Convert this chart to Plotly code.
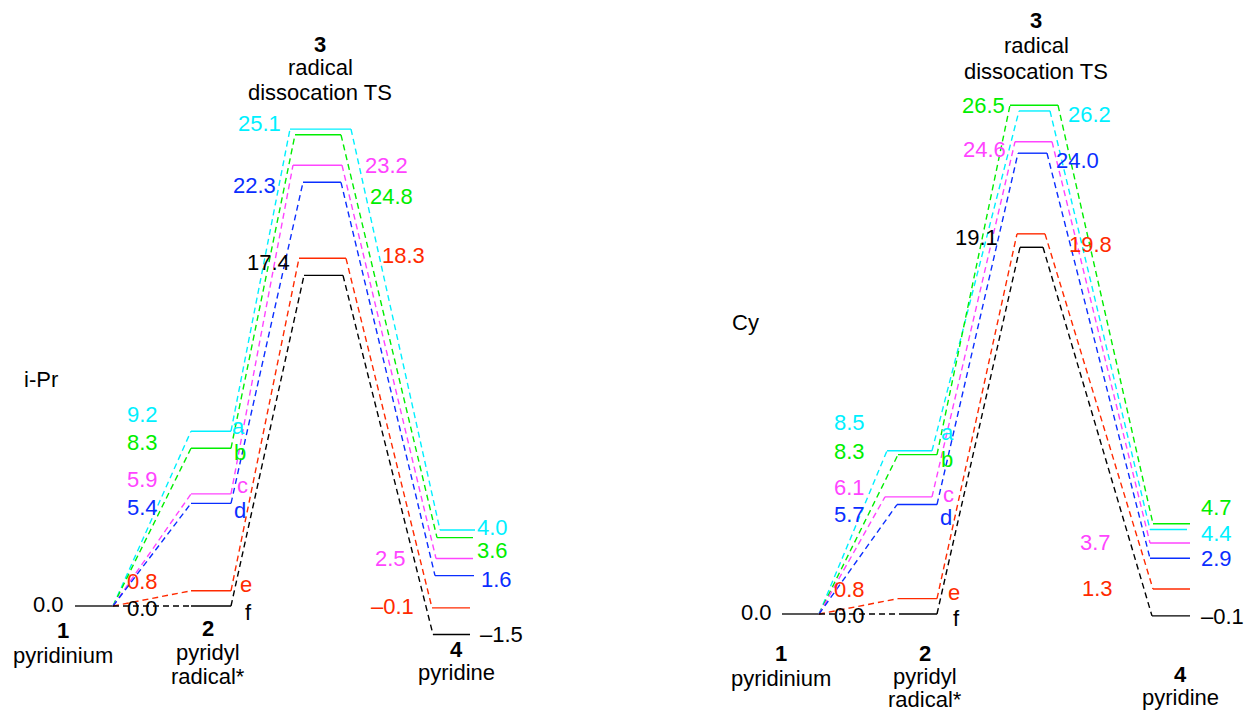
import plotly.graph_objects as go

# ---------------- data ----------------
series = ["a", "b", "c", "d", "e", "f"]
colors = ["#00F0FF", "#00EE00", "#FF44FF", "#0A2EFF", "#FF2A00", "#000000"]
stages = ["1", "2", "3", "4"]
stage_names = ["pyridinium", "pyridyl<br>radical*", "radical<br>dissocation TS", "pyridine"]
panels = ["i-Pr", "Cy"]

ipr_pyridinium = 0.0
ipr_radical = [9.2, 8.3, 5.9, 5.4, 0.8, 0.0]
ipr_ts = [25.1, 24.8, 23.2, 22.3, 18.3, 17.4]
ipr_pyridine = [4.0, 3.6, 2.5, 1.6, -0.1, -1.5]

cy_pyridinium = 0.0
cy_radical = [8.5, 8.3, 6.1, 5.7, 0.8, 0.0]
cy_ts = [26.2, 26.5, 24.6, 24.0, 19.8, 19.1]
cy_pyridine = [4.4, 4.7, 3.7, 2.9, 1.3, -0.1]

# ---------------- layout constants (pixel x positions, label offsets) ----------------
W, H = 1246, 711
FONT = "Liberation Sans, Arial, Helvetica, sans-serif"
FS = 22

panel_cfg = [
    dict(yaxis="y", base=606, scale=19.0,
         s1=(75, 113),
         s2=[(191, 231)] * 6,
         ts=[(290, 351), (295, 341), (293, 342), (303, 341), (299, 346), (304, 343)],
         p=[(440, 475), (437, 473), (436, 473), (435, 474), (432, 470), (433, 470)],
         s1lab=(48, 2),
         s2lab_x=[142] * 6, s2lab_dy=[17, 6, 14, -4, 9, -2],
         let_x=[238, 240, 242, 240, 246, 248], let_dy=[5, -4, 8, -7, 6, -6],
         tslab_x=[259, 391, 386, 254, 403, 268], tslab_dy=[6, -62, 0, -3, 3, 13],
         plab_x=[492, 492, 390, 496, 392, 501], plab_dy=[3, -13, 0, -4, 1, 0],
         title=(320, [44, 68, 92]), name=(41, 380),
         st1=(63, [630, 655]), st2=(208, [628, 652, 676]), st4=(456, [649, 672])),
    dict(yaxis="y2", base=614, scale=19.2,
         s1=(782, 819),
         s2=[(887, 932), (898, 937), (885, 932), (897, 937), (898, 937), (900, 937)],
         ts=[(1019, 1050), (1010, 1058), (1015, 1052), (1018, 1047), (1017, 1045), (1020, 1043)],
         p=[(1150, 1187), (1153, 1190), (1150, 1190), (1150, 1190), (1153, 1190), (1152, 1190)],
         s1lab=(756, 2),
         s2lab_x=[849] * 6, s2lab_dy=[28, 3, 9, -10, 9, -1],
         let_x=[947, 947, 948, 946, 954, 956], let_dy=[18, -5, 2, -13, 6, -4],
         tslab_x=[1089, 983, 984, 1077, 1090, 976], tslab_dy=[-4, 0, -8, -7, -11, 10],
         plab_x=[1216, 1216, 1095, 1216, 1097, 1222], plab_dy=[-4, 16, 0, 0, 1, -1],
         title=(1036, [20, 46, 71]), name=(745, 323),
         st1=(781, [653, 678]), st2=(925, [653, 676, 699]), st4=(1180, [674, 697])),
]

panel_data = [
    (ipr_pyridinium, ipr_radical, ipr_ts, ipr_pyridine),
    (cy_pyridinium, cy_radical, cy_ts, cy_pyridine),
]


def fmt(v):
    s = f"{abs(v):.1f}"
    return ("\u2013" + s) if v < 0 else s


fig = go.Figure()
annotations = []

for cfg, (v1, v2, v3, v4) in zip(panel_cfg, panel_data):
    ya = cfg["yaxis"]
    yref = ya
    # stage 1 level
    fig.add_trace(go.Scatter(x=list(cfg["s1"]), y=[v1, v1], mode="lines",
                             line=dict(color="#222222", width=1.4),
                             xaxis="x", yaxis=ya, hoverinfo="skip"))
    for i, s in enumerate(series):
        c = colors[i]
        a2, b2 = cfg["s2"][i]
        a3, b3 = cfg["ts"][i]
        a4, b4 = cfg["p"][i]
        # solid levels
        fig.add_trace(go.Scatter(
            x=[a2, b2, None, a3, b3, None, a4, b4],
            y=[v2[i], v2[i], None, v3[i], v3[i], None, v4[i], v4[i]],
            mode="lines", line=dict(color=c, width=1.4),
            xaxis="x", yaxis=ya, hoverinfo="skip"))
        # dashed connectors
        fig.add_trace(go.Scatter(
            x=[cfg["s1"][1], a2, None, b2, a3, None, b3, a4],
            y=[v1, v2[i], None, v2[i], v3[i], None, v3[i], v4[i]],
            mode="lines", line=dict(color=c, width=1.4, dash="6px,4px"),
            xaxis="x", yaxis=ya, hoverinfo="skip"))
        # labels
        annotations.append(dict(x=cfg["s2lab_x"][i], y=v2[i], xref="x", yref=yref,
                                yshift=cfg["s2lab_dy"][i], text=fmt(v2[i]),
                                showarrow=False, font=dict(color=c, size=FS, family=FONT)))
        annotations.append(dict(x=cfg["let_x"][i], y=v2[i], xref="x", yref=yref,
                                yshift=cfg["let_dy"][i], text=s,
                                showarrow=False, font=dict(color=c, size=FS, family=FONT)))
        annotations.append(dict(x=cfg["tslab_x"][i], y=v3[i], xref="x", yref=yref,
                                yshift=cfg["tslab_dy"][i], text=fmt(v3[i]),
                                showarrow=False, font=dict(color=c, size=FS, family=FONT)))
        annotations.append(dict(x=cfg["plab_x"][i], y=v4[i], xref="x", yref=yref,
                                yshift=cfg["plab_dy"][i], text=fmt(v4[i]),
                                showarrow=False, font=dict(color=c, size=FS, family=FONT)))
    # stage 1 label
    annotations.append(dict(x=cfg["s1lab"][0], y=v1, xref="x", yref=yref,
                            yshift=cfg["s1lab"][1], text=fmt(v1), showarrow=False,
                            font=dict(color="black", size=FS, family=FONT)))


def ptext(x, ypx, text, bold=False, color="black"):
    t = f"<b>{text}</b>" if bold else text
    annotations.append(dict(x=x, y=1 - ypx / H, xref="x", yref="paper", text=t,
                            showarrow=False, yanchor="middle",
                            font=dict(color=color, size=FS, family=FONT)))


for pi, cfg in enumerate(panel_cfg):
    tx, tys = cfg["title"]
    ts_lines = stage_names[2].split("<br>")
    ptext(tx, tys[0], stages[2], bold=True)
    ptext(tx, tys[1], ts_lines[0])
    ptext(tx, tys[2], ts_lines[1])
    nx, ny = cfg["name"]
    ptext(nx, ny, panels[pi])
    x1, y1s = cfg["st1"]
    ptext(x1, y1s[0], stages[0], bold=True)
    ptext(x1, y1s[1], stage_names[0])
    x2, y2s = cfg["st2"]
    s2_lines = stage_names[1].split("<br>")
    ptext(x2, y2s[0], stages[1], bold=True)
    ptext(x2, y2s[1], s2_lines[0])
    ptext(x2, y2s[2], s2_lines[1])
    x4, y4s = cfg["st4"]
    ptext(x4, y4s[0], stages[3], bold=True)
    ptext(x4, y4s[1], stage_names[3])

c0, c1 = panel_cfg
fig.update_layout(
    width=W, height=H,
    margin=dict(l=0, r=0, t=0, b=0),
    paper_bgcolor="white", plot_bgcolor="white",
    showlegend=False,
    xaxis=dict(range=[0, W], visible=False, fixedrange=True),
    yaxis=dict(range=[-(H - c0["base"]) / c0["scale"], c0["base"] / c0["scale"]],
               visible=False, fixedrange=True),
    yaxis2=dict(range=[-(H - c1["base"]) / c1["scale"], c1["base"] / c1["scale"]],
                visible=False, overlaying="y", fixedrange=True),
    annotations=annotations,
)

fig.write_html("out.html")
